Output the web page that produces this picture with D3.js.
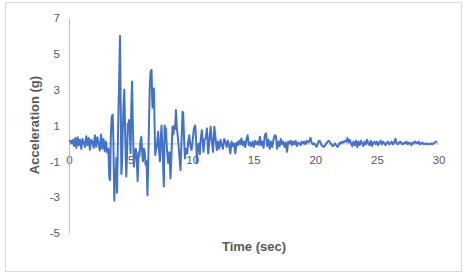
<!DOCTYPE html>
<html>
<head>
<meta charset="utf-8">
<script src="https://cdn.jsdelivr.net/npm/d3@7"></script>
<style>
  body { margin: 0; background: #fff; }
  text { font-family: "Liberation Sans", Arial, sans-serif; fill: #595959; }
</style>
</head>
<body>
<svg width="466" height="277"></svg>
<script>
// ground motion record
const STEP = 0.1;

// 0.0 .. 2.9 s, every 0.1 s
const earlyAccel = [
  0.1, 0.15, 0.0, 0.2, -0.15, 0.3, -0.25, 0.35, -0.1, 0.2,
  -0.3, 0.25, 0.05, -0.2, 0.4, -0.1, 0.3, -0.35, 0.2, 0.1,
  -0.25, 0.45, -0.2, 0.35, 0.0, -0.4, 0.5, -0.3, 0.25, -0.45
];

// strong shaking, uneven time steps
const strongTime = [
  3.0, 3.1, 3.2, 3.27, 3.33, 3.4, 3.47, 3.55, 3.6, 3.68, 3.75, 3.8, 3.85, 3.9,
  4.0, 4.07, 4.14, 4.2, 4.25, 4.3, 4.35, 4.42, 4.49, 4.56, 4.65, 4.72, 4.77, 4.82, 4.87, 4.93,
  5.0, 5.05, 5.12, 5.2, 5.27, 5.35, 5.42, 5.5, 5.57, 5.65, 5.72, 5.8, 5.87, 5.95,
  6.0, 6.08, 6.15, 6.22, 6.3, 6.37, 6.45, 6.55, 6.62, 6.7, 6.75, 6.78, 6.84, 6.89, 6.95,
  7.0, 7.05, 7.12, 7.18, 7.24, 7.3, 7.38, 7.45, 7.51, 7.6, 7.7, 7.76, 7.8, 7.86, 7.95,
  8.05, 8.15, 8.24, 8.32, 8.4, 8.48, 8.55, 8.62, 8.68, 8.75, 8.8, 8.86, 8.95,
  9.05, 9.12, 9.22, 9.27, 9.33, 9.41, 9.5, 9.6, 9.68, 9.76, 9.85, 9.95,
  10.05, 10.14, 10.25, 10.32, 10.38, 10.45, 10.55, 10.62, 10.7, 10.79, 10.86, 10.92, 11.0
];
const strongAccel = [
  0.1, -0.5, -0.3, -1.9, -2.05, 0.5, 1.5, 1.6, 0.2, -3.2, -1.5, -1.7, -0.8, -2.75,
  1.3, 3.5, 6.0, 2.0, -1.7, -1.2, 0.4, 2.0, 3.0, 0.5, -1.85, -0.5, 1.1, 0.8, 1.3, 0.6,
  -0.55, 1.8, 3.45, 0.5, -1.3, -0.6, -0.3, -0.9, -2.1, -0.5, -0.7, 0.1, 0.37, -0.6,
  -1.0, -0.3, -0.5, -1.2, -1.0, -2.9, -0.5, 3.0, 4.0, 4.1, 2.5, 2.0, 3.0, 3.07, 1.0,
  -0.65, -0.4, -0.2, 0.2, 0.65, -0.3, -1.0, 0.3, 1.0, -0.5, -2.4, 1.0, 0.5, 0.84, -0.3,
  -1.1, -0.5, -1.96, -0.6, 0.93, 0.5, 1.0, 0.8, 1.86, 0.9, 0.6, 0.18, -0.6,
  -1.5, -0.2, 1.77, 1.7, 0.5, -0.84, -0.3, -0.56, 0.1, 0.46, -0.1, -0.37,
  0.2, 0.84, 1.0, 0.2, -1.1, -0.2, 0.0, -0.6, 0.3, 0.74, 0.1, -0.47, 0.2
];

// 11.1 .. 29.9 s, every 0.1 s
const lateStart = 11.1;
const lateAccel = [
  0.3, 0.84, -0.56, 0.2, 0.93, 0.1, -0.47, 0.93, 0.3,
  -0.37, 0.1, -0.3, 0.2, -0.1, -0.3, 0.25, 0.1, -0.2, 0.15,
  -0.1, -0.56, 0.1, -0.15, 0.0, -0.56, 0.05, -0.1, 0.15, -0.05,
  0.28, -0.1, 0.1, -0.2, 0.2, 0.46, -0.1, 0.05, -0.15, 0.1,
  -0.2, 0.15, -0.05, 0.1, -0.1, 0.37, -0.1, 0.1, -0.25, 0.46,
  0.56, -0.15, 0.2, -0.3, 0.1, -0.2, 0.2, 0.46, 0.4, -0.3,
  0.1, -0.15, 0.25, -0.05, 0.1, -0.2, 0.05, -0.47, 0.1, 0.0,
  0.15, -0.1, 0.1, -0.05, 0.15, -0.15, 0.05, 0.0, -0.1, 0.1,
  0.0, 0.1, -0.05, 0.15, 0.05, 0.1, 0.31, 0.05, -0.05, 0.0,
  -0.1, -0.2, 0.0, 0.15, 0.1, -0.1, -0.15, -0.2, -0.1, 0.0,
  0.1, 0.15, 0.05, -0.05, -0.15, -0.1, 0.0, -0.1, -0.2, -0.1,
  0.05, 0.0, 0.1, 0.05, 0.15, 0.1, 0.3, 0.05, 0.2, 0.0,
  -0.15, 0.1, -0.1, 0.15, -0.2, 0.1, -0.1, 0.15, 0.0, -0.15,
  0.1, -0.05, 0.2, 0.0, -0.1, 0.15, -0.15, 0.05, 0.1, -0.05,
  0.1, -0.1, 0.05, 0.15, -0.05, 0.1, 0.0, -0.1, 0.05, 0.1,
  -0.05, 0.0, 0.1, -0.05, 0.05, 0.26, 0.0, -0.05, 0.05, 0.1,
  0.0, -0.05, 0.05, 0.0, 0.1, -0.05, 0.05, 0.0, -0.1, 0.05,
  0.0, 0.1, 0.05, 0.0, 0.1, -0.05, 0.0, 0.05, -0.05, 0.0,
  -0.05, 0.0, -0.05, -0.05, 0.0, -0.05, 0.0, 0.05, 0.1, 0.1
];

const xTicks = [0, 5, 10, 15, 20, 25, 30];
const yTicks = [-5, -3, -1, 1, 3, 5, 7];

// stitch the pieces into one series
const series = [];
earlyAccel.forEach((a, i) => series.push([+(i * STEP).toFixed(2), a]));
strongTime.forEach((t, i) => series.push([t, strongAccel[i]]));
lateAccel.forEach((a, i) => series.push([+(lateStart + i * STEP).toFixed(2), a]));

const svg = d3.select('svg');

// chart area border
svg.append('rect')
  .attr('x', 5.5).attr('y', 2.5)
  .attr('width', 456).attr('height', 269)
  .attr('fill', '#fff')
  .attr('stroke', '#D9D9D9');

const x = d3.scaleLinear().domain([0, 30]).range([69, 438.5]);
const y = d3.scaleLinear().domain([-5, 7]).range([233, 18]);

// plain hyphen for negatives, like Excel
const plain = d => String(d);

// axes, no tick marks (Excel style)
const xAxis = svg.append('g')
  .attr('transform', `translate(0,${y(0)})`)
  .call(d3.axisBottom(x).tickValues(xTicks).tickFormat(plain).tickSize(0).tickPadding(12));
const yAxis = svg.append('g')
  .attr('transform', `translate(${x(0)},0)`)
  .call(d3.axisLeft(y).tickValues(yTicks).tickFormat(plain).tickSize(0).tickPadding(9));

[xAxis, yAxis].forEach(g => {
  g.select('.domain').attr('stroke', '#BFBFBF').attr('stroke-width', 1);
  g.selectAll('text')
    .style('font-family', '"Liberation Sans", Arial, sans-serif')
    .style('font-size', '11.5px')
    .attr('fill', '#595959');
});

svg.append('path')
  .datum(series)
  .attr('fill', 'none')
  .attr('stroke', '#4472C4')
  .attr('stroke-width', 2)
  .attr('stroke-linejoin', 'round')
  .attr('d', d3.line().x(d => x(d[0])).y(d => y(d[1])));

// axis titles
svg.append('text')
  .attr('x', 254).attr('y', 251)
  .attr('text-anchor', 'middle')
  .style('font-size', '13px')
  .style('font-weight', 'bold')
  .text('Time (sec)');

svg.append('text')
  .attr('transform', 'translate(39,125) rotate(-90)')
  .attr('text-anchor', 'middle')
  .style('font-size', '13px')
  .style('font-weight', 'bold')
  .text('Acceleration (g)');
</script>
</body>
</html>
